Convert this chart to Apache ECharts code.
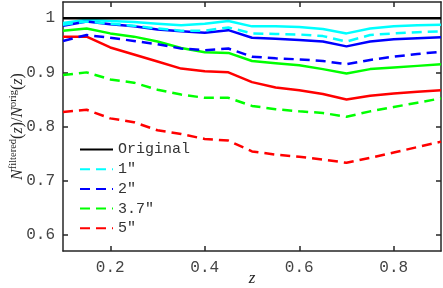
<!DOCTYPE html>
<html><head><meta charset="utf-8">
<script src="https://cdn.jsdelivr.net/npm/echarts@6/dist/echarts.min.js"></script>
<style>html,body{margin:0;padding:0;background:#fff}#c{width:443px;height:288px}</style>
</head><body><div id="c"></div>
<script>
var zValues = [0.1,0.15,0.2,0.25,0.3,0.35,0.4,0.45,0.5,0.55,0.6,0.65,0.7,0.75,0.8,0.85,0.9];
var original   = [1,1,1,1,1,1,1,1,1,1,1,1,1,1,1,1,1];
var solid1     = [0.991,0.997,0.995,0.993,0.990,0.987,0.990,0.995,0.985,0.985,0.984,0.980,0.972,0.981,0.985,0.987,0.988];
var solid2     = [0.986,0.994,0.989,0.985,0.979,0.976,0.973,0.978,0.964,0.962,0.960,0.957,0.948,0.957,0.961,0.963,0.965];
var solid37    = [0.977,0.981,0.972,0.966,0.957,0.945,0.937,0.936,0.921,0.917,0.913,0.906,0.898,0.906,0.909,0.912,0.915];
var solid5     = [0.966,0.966,0.946,0.933,0.920,0.907,0.902,0.900,0.882,0.872,0.867,0.860,0.850,0.857,0.861,0.864,0.867];
var dashed1    = [0.988,0.994,0.990,0.986,0.981,0.977,0.977,0.983,0.972,0.971,0.970,0.967,0.957,0.969,0.972,0.974,0.976];
var dashed2    = [0.958,0.969,0.964,0.958,0.952,0.944,0.941,0.944,0.929,0.926,0.924,0.921,0.915,0.923,0.929,0.934,0.938];
var dashed37   = [0.895,0.900,0.887,0.881,0.868,0.859,0.853,0.853,0.838,0.832,0.828,0.825,0.818,0.828,0.836,0.844,0.852];
var dashed5    = [0.827,0.831,0.815,0.808,0.793,0.786,0.777,0.774,0.754,0.748,0.744,0.739,0.733,0.742,0.752,0.762,0.772];
var xTicks = [0.2,0.4,0.6,0.8];
var yTicks = [0.6,0.7,0.8,0.9,1];
var legendNames = ['Original','1"','2"','3.7"','5"'];

function pairs(v){ return zValues.map(function(z,i){ return [z, v[i]]; }); }
function ser(name, data, color, dashed){
  return {name:name, type:'line', data:pairs(data), symbol:'none', silent:true,
    lineStyle:{color:color, width:2.5, type: dashed ? [10,6] : 'solid'},
    itemStyle:{color:color}, z: 2};
}
var mono = 'Liberation Mono';
var axisCol = '#262626';
var chart = echarts.init(document.getElementById('c'), null, {renderer:'canvas'});
chart.setOption({
  animation:false,
  grid:{left:63, right:2, top:2, bottom:37, containLabel:false, outerBoundsMode:'none'},
  legend:{data:legendNames, orient:'vertical', left:74, top:137, itemWidth:33, itemHeight:14, itemGap:4.7,
    itemStyle:{opacity:0},
    textStyle:{fontFamily:mono, fontSize:15, color:'#333'}, selectedMode:false},
  xAxis:[{type:'value', min:0.1, max:0.9, position:'bottom',
    name:'z', nameLocation:'middle', nameGap:19, nameMoveOverlap:false,
    nameTextStyle:{fontFamily:'Liberation Serif', fontStyle:'italic', fontSize:17, color:axisCol},
    axisLine:{lineStyle:{color:axisCol, width:1.5}},
    axisTick:{inside:true, length:5, customValues:xTicks, lineStyle:{color:axisCol, width:1.5}},
    axisLabel:{customValues:xTicks, fontFamily:mono, fontSize:16, color:'#444', margin:9,
      formatter:function(v){return v.toFixed(1);}},
    splitLine:{show:false}},
   {type:'value', min:0.1, max:0.9, position:'top',
    axisLine:{lineStyle:{color:axisCol, width:1.5}},
    axisTick:{inside:true, length:5, customValues:xTicks, lineStyle:{color:axisCol, width:1.5}},
    axisLabel:{show:false}, splitLine:{show:false}}],
  yAxis:[{type:'value', min:0.57, max:1.03, position:'left',
    name:'{n|N}{s|filtered}{p|(}{n|z}{p|)/}{n|N}{s|orig}{p|(}{n|z}{p|)}',
    nameLocation:'middle', nameRotate:90, nameGap:36, nameMoveOverlap:false,
    nameTextStyle:{color:axisCol, rich:{
      n:{fontFamily:'Liberation Serif', fontStyle:'italic', fontSize:16, color:axisCol},
      p:{fontFamily:'Liberation Serif', fontSize:16, color:axisCol},
      s:{fontFamily:'Liberation Serif', fontSize:10.5, color:axisCol, padding:[0,0,8,0]}
    }},
    axisLine:{lineStyle:{color:axisCol, width:1.5}},
    axisTick:{inside:true, length:5, customValues:yTicks, lineStyle:{color:axisCol, width:1.5}},
    axisLabel:{customValues:yTicks, fontFamily:mono, fontSize:16, color:'#444', margin:8,
      formatter:function(v){return v===1?'1':v.toFixed(1);}},
    splitLine:{show:false}},
   {type:'value', min:0.57, max:1.03, position:'right',
    axisLine:{lineStyle:{color:axisCol, width:1.5}},
    axisTick:{inside:true, length:5, customValues:yTicks, lineStyle:{color:axisCol, width:1.5}},
    axisLabel:{show:false}, splitLine:{show:false}}],
  series:[
    ser('s1', solid1, '#00ffff', false),
    ser('s2', solid2, '#0000ff', false),
    ser('s37', solid37, '#00ff00', false),
    ser('s5', solid5, '#ff0000', false),
    ser('1"', dashed1, '#00ffff', true),
    ser('2"', dashed2, '#0000ff', true),
    ser('3.7"', dashed37, '#00ff00', true),
    ser('5"', dashed5, '#ff0000', true),
    ser('Original', original, '#000000', false)
  ]
});
</script></body></html>
